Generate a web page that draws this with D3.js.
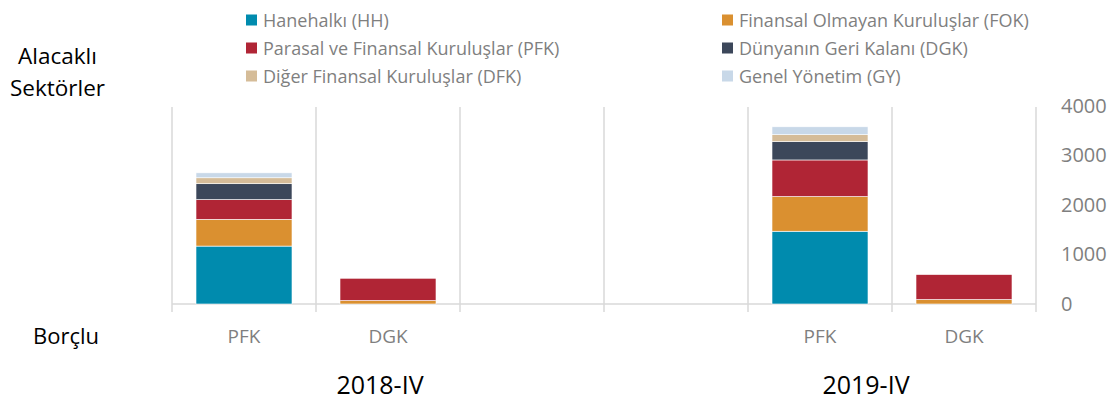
<!DOCTYPE html>
<html>
<head>
<meta charset="utf-8">
<script src="https://cdn.jsdelivr.net/npm/d3@7"></script>
<style>
  body { margin: 0; background: #fff; }
  svg { font-family: "Open Sans", sans-serif; }
</style>
</head>
<body>
<svg id="chart"></svg>
<script>
// DATA
const periods = ['2018-IV', '2019-IV']
const slots = ['2018-IV|PFK', '2018-IV|DGK', '2018-IV|', '2019-IV|', '2019-IV|PFK', '2019-IV|DGK']
const slotLabels = ['PFK', 'DGK', '', '', 'PFK', 'DGK']
const seriesKeys = ['HH', 'FOK', 'PFK', 'DGK', 'DFK', 'GY']
const seriesNames = [
  'Hanehalkı (HH)',
  'Finansal Olmayan Kuruluşlar (FOK)',
  'Parasal ve Finansal Kuruluşlar (PFK)',
  'Dünyanın Geri Kalanı (DGK)',
  'Diğer Finansal Kuruluşlar (DFK)',
  'Genel Yönetim (GY)'
]
const colors = ['#008bae', '#da9030', '#b02535', '#3c475a', '#d5bc98', '#c8d8e8']

// values per slot, order follows seriesKeys
const HH  = [1170, 0,   0, 0, 1470, 0]
const FOK = [540,  70,  0, 0, 700,  90]
const PFK = [400,  450, 0, 0, 740,  505]
const DGK = [320,  0,   0, 0, 370,  0]
const DFK = [120,  0,   0, 0, 140,  0]
const GY  = [100,  0,   0, 0, 160,  0]
const yTicks = [0, 1000, 2000, 3000, 4000]

const table = slots.map((s, i) => ({
  slot: s, HH: HH[i], FOK: FOK[i], PFK: PFK[i], DGK: DGK[i], DFK: DFK[i], GY: GY[i]
}))

// MARGIN CONVENTION
const totalWidth = 1120, totalHeight = 400
const margin = { left: 172, right: 84, top: 106, bottom: 96 }
const width = totalWidth - margin.left - margin.right
const height = totalHeight - margin.top - margin.bottom

const svg = d3.select('#chart')
  .attr('width', totalWidth)
  .attr('height', totalHeight)

const x = d3.scaleBand()
  .domain(slots)
  .range([0, width])
  .padding(0)

const y = d3.scaleLinear()
  .domain([0, 4000])
  .range([height, 0])

const plot = svg.append('g')
  .attr('transform', `translate(${margin.left}, ${margin.top})`)

// GRID LINES (slot boundaries)
const bounds = slots.map(s => x(s)).concat([width])
plot.append('g')
  .selectAll('line')
  .data(bounds)
  .enter()
  .append('line')
    .attr('x1', d => d)
    .attr('x2', d => d)
    .attr('y1', 1)
    .attr('y2', height + 8)
    .attr('stroke', '#d9d9d9')
    .attr('stroke-width', 1.5)

plot.append('line')
  .attr('x1', 0)
  .attr('x2', width)
  .attr('y1', y(0))
  .attr('y2', y(0))
  .attr('stroke', '#d9d9d9')
  .attr('stroke-width', 1.5)

// STACKED BARS
const stacked = d3.stack().keys(seriesKeys)(table)
const barW = x.bandwidth() * 2 / 3

plot.append('g')
  .selectAll('g')
  .data(stacked)
  .enter()
  .append('g')
    .attr('fill', (d, i) => colors[i])
  .selectAll('rect')
  .data(d => d.filter(p => p[1] - p[0] > 0))
  .enter()
  .append('rect')
    .attr('x', d => x(d.data.slot) + (x.bandwidth() - barW) / 2)
    .attr('y', d => y(d[1]))
    .attr('width', barW)
    .attr('height', d => y(d[0]) - y(d[1]))
    .attr('stroke', '#ffffff')
    .attr('stroke-width', 0.6)

// RIGHT Y AXIS
const yAxis = d3.axisRight(y)
  .tickValues(yTicks)
  .tickFormat(d3.format('d'))
  .tickSize(0)
  .tickPadding(25)
const yg = plot.append('g')
  .attr('transform', `translate(${width}, 0)`)
  .call(yAxis)
  .attr('font-family', null)
yg.select('.domain').remove()
yg.selectAll('text')
  .attr('fill', '#7f7f7f')
  .style('font-size', '20px')

// SLOT LABELS
const xAxis = d3.axisBottom(x)
  .tickFormat((d, i) => slotLabels[i])
  .tickSize(0)
  .tickPadding(0)
const xg = plot.append('g')
  .attr('transform', `translate(0, ${height})`)
  .call(xAxis)
  .attr('font-family', null)
xg.select('.domain').remove()
xg.selectAll('text')
  .attr('y', 39)
  .attr('dy', null)
  .attr('fill', '#7f7f7f')
  .style('font-size', '19px')

// PERIOD LABELS
const periodX = [380 - margin.left, 866 - margin.left]
plot.selectAll('.period')
  .data(periods)
  .enter()
  .append('text')
    .attr('class', 'period')
    .attr('x', (d, i) => periodX[i])
    .attr('y', height + 90)
    .attr('text-anchor', 'middle')
    .attr('fill', '#000')
    .style('font-size', '25px')
    .text(d => d)

// SIDE LABELS
svg.append('text').attr('x', 18).attr('y', 64).style('font-size', '22.5px').text('Alacaklı')
svg.append('text').attr('x', 10).attr('y', 96).style('font-size', '22.5px').text('Sektörler')
svg.append('text').attr('x', 33).attr('y', 344).style('font-size', '22px').text('Borçlu')

// LEGEND
const legendX = [246, 722], legendY = [20, 48, 76]
const legend = svg.append('g')
  .selectAll('g')
  .data(seriesNames)
  .enter()
  .append('g')
    .attr('transform', (d, i) => `translate(${legendX[i % 2]}, ${legendY[Math.floor(i / 2)]})`)
legend.append('rect')
  .attr('x', 0)
  .attr('y', -5.5)
  .attr('width', 11)
  .attr('height', 11)
  .attr('fill', (d, i) => colors[i])
legend.append('text')
  .attr('x', 17)
  .attr('y', 7)
  .attr('fill', '#7f7f7f')
  .style('font-size', '18px')
  .text(d => d)
</script>
</body>
</html>
